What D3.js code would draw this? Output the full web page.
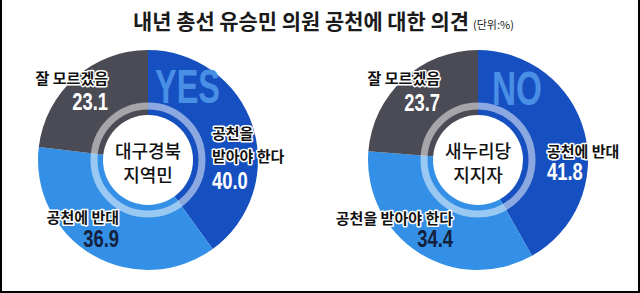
<!DOCTYPE html>
<html>
<head>
<meta charset="utf-8">
<title>내년 총선 유승민 의원 공천에 대한 의견</title>
<script src="https://d3js.org/d3.v7.min.js"></script>
<style>
  body { margin: 0; background: #fff; }
  svg { display: block; }
</style>
</head>
<body>
<script type="text/javascript">

var title = "내년 총선 유승민 의원 공천에 대한 의견";
var unit = "(단위:%)";

// left donut: 대구경북 지역민
var leftGroup = ["대구경북", "지역민"];
var leftLabels = ["공천을 받아야 한다", "공천에 반대", "잘 모르겠음"];
var leftValues = [40.0, 36.9, 23.1];

// right donut: 새누리당 지지자
var rightGroup = ["새누리당", "지지자"];
var rightLabels = ["공천에 반대", "공천을 받아야 한다", "잘 모르겠음"];
var rightValues = [41.8, 34.4, 23.7];

var colors = ["#1650c0", "#3390e6", "#4a4b55"];

var width = 640, height = 293;
var R = 110, r0 = 40;
var kr = "'Noto Sans CJK KR', 'Noto Sans', sans-serif";
var num = "'Liberation Sans', 'DejaVu Sans', sans-serif";

var svg = d3.select("body").append("svg")
  .attr("width", width)
  .attr("height", height);

svg.append("rect").attr("width", width).attr("height", height).attr("fill", "#fff");

// title
var t = svg.append("text")
  .attr("x", 133).attr("y", 29)
  .attr("font-family", kr).attr("font-weight", 700)
  .attr("font-size", 21).attr("fill", "#1a1a1a");
t.append("tspan").text(title).attr("textLength", 336).attr("lengthAdjust", "spacingAndGlyphs");
t.append("tspan").attr("font-size", 11).attr("font-weight", 400).attr("dx", 4).text(unit);

var pie = d3.pie().sort(null).value(function (d) { return d; });
var arc = d3.arc().innerRadius(r0).outerRadius(R);

function halo(sel, size, color) {
  sel.attr("font-family", kr).attr("font-weight", 700)
    .attr("font-size", size).attr("fill", color || "#111")
    .attr("stroke", "#fff").attr("stroke-width", 3)
    .attr("stroke-linejoin", "round").attr("paint-order", "stroke");
}

// squeeze a text to look condensed
function narrow(sel, k) {
  sel.each(function () {
    var w = this.getComputedTextLength();
    d3.select(this).attr("textLength", w * k).attr("lengthAdjust", "spacingAndGlyphs");
  });
}

function donut(cx, cy, values, labels, group, bigWord, bigPos, spots) {
  var g = svg.append("g").attr("transform", "translate(" + cx + "," + cy + ")");

  g.selectAll("path.slice")
    .data(pie(values))
    .enter()
      .append("path")
      .attr("class", "slice")
      .attr("d", arc)
      .attr("fill", function (d, i) { return colors[i]; });

  // big word inside the first wedge
  g.append("text")
    .attr("x", bigPos[0]).attr("y", bigPos[1])
    .attr("font-family", num).attr("font-weight", 700)
    .attr("font-size", 49).attr("fill", "#4a8fe6")
    .text(bigWord)
    .attr("textLength", bigPos[2]).attr("lengthAdjust", "spacingAndGlyphs");

  // inner rings
  g.append("circle").attr("r", 54).attr("fill", "none")
    .attr("stroke", "#fff").attr("stroke-opacity", 0.5).attr("stroke-width", 7);
  g.append("circle").attr("r", 45).attr("fill", "#fff");

  group.forEach(function (s, i) {
    g.append("text")
      .attr("x", 0).attr("y", -2 + i * 24)
      .attr("text-anchor", "middle")
      .attr("font-family", kr).attr("font-weight", 500)
      .attr("font-size", 18).attr("fill", "#111")
      .text(s);
  });

  // labels
  spots.forEach(function (p, i) {
    p.lines.forEach(function (s, j) {
      g.append("text")
        .attr("x", p.x).attr("y", p.y + j * 23)
        .attr("text-anchor", p.anchor || "start")
        .call(halo, 15)
        .text(s);
    });
    g.append("text")
      .attr("x", p.x).attr("y", p.ny)
      .attr("text-anchor", p.anchor || "start")
      .attr("font-family", num).attr("font-weight", 700)
      .attr("font-size", 23).attr("fill", p.ncolor)
      .text(values[i].toFixed(1))
      .call(narrow, 0.8);
  });
}

donut(148, 160, leftValues, leftLabels, leftGroup, "YES", [7, -57, 65], [
  { lines: ["공천을", "받아야 한다"], x: 64, y: -21, ny: 29, ncolor: "#fff" },
  { lines: [leftLabels[1]], x: -29, y: 63, ny: 87, ncolor: "#14213d", anchor: "end" },
  { lines: [leftLabels[2]], x: -40, y: -76, ny: -50, ncolor: "#fff", anchor: "end" }
]);

donut(478, 160, rightValues, rightLabels, rightGroup, "NO", [14, -55, 50], [
  { lines: [rightLabels[0]], x: 69, y: -3, ny: 20, ncolor: "#fff" },
  { lines: [rightLabels[1]], x: -25, y: 64, ny: 87, ncolor: "#14213d", anchor: "end" },
  { lines: [rightLabels[2]], x: -38, y: -76, ny: -49, ncolor: "#fff", anchor: "end" }
]);

// frame
svg.append("rect").attr("x", 0).attr("y", 0).attr("width", 2).attr("height", height).attr("fill", "#000");
svg.append("rect").attr("x", width - 2).attr("y", 0).attr("width", 2).attr("height", height).attr("fill", "#000");
svg.append("rect").attr("x", 0).attr("y", height - 2).attr("width", width).attr("height", 2).attr("fill", "#000");

</script>
</body>
</html>
